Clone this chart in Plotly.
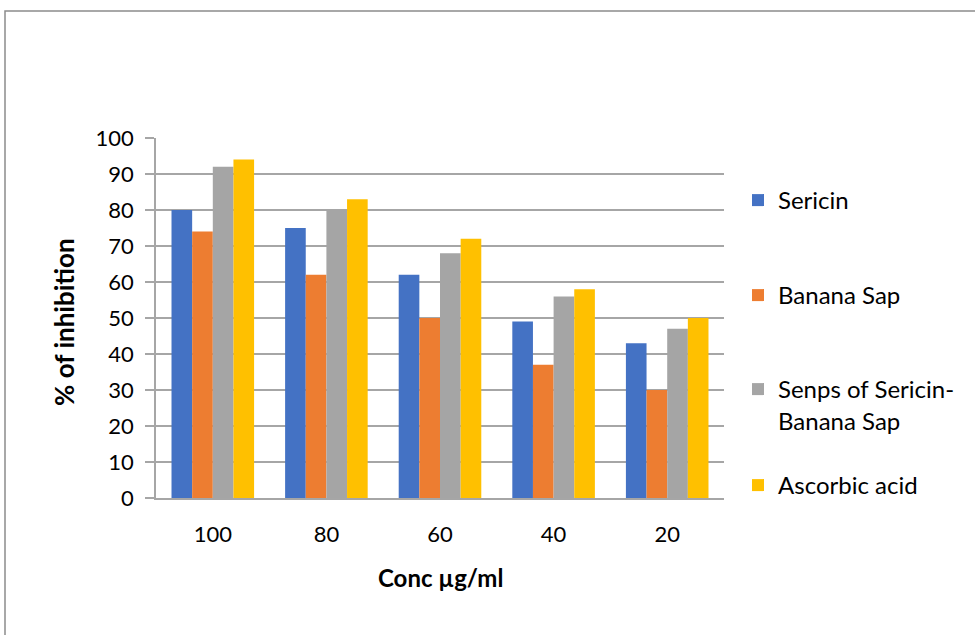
import plotly.graph_objects as go

# Concentrations (µg/ml) and % inhibition for each sample
concentrations = ["100", "80", "60", "40", "20"]
sericin = [80, 75, 62, 49, 43]
banana_sap = [74, 62, 50, 37, 30]
senps = [92, 80, 68, 56, 47]
ascorbic_acid = [94, 83, 72, 58, 50]

series_names = ["Sericin", "Banana Sap", "Senps of Sericin-<br>Banana Sap", "Ascorbic acid"]
series_values = [sericin, banana_sap, senps, ascorbic_acid]
series_colors = ["#4472C4", "#ED7D31", "#A5A5A5", "#FFC000"]

FONT = "Lato"
W, H = 975, 635
ML, MR, MT, MB = 156, 251, 138, 137
PW, PH = W - ML - MR, H - MT - MB

# legend slot centres (pixels from top) for each entry
legend_centres = [201, 296, 390, 486]
legend_ids = ["legend", "legend2", "legend3", "legend4"]

fig = go.Figure()
for name, vals, col, lid in zip(series_names, series_values, series_colors, legend_ids):
    fig.add_trace(go.Bar(x=concentrations, y=vals, name=name,
                         marker=dict(color=col, line=dict(width=0)),
                         legend=lid, showlegend=True))

legend_layout = {}
for lid, cy in zip(legend_ids, legend_centres):
    legend_layout[lid] = dict(
        xref="container", yref="container",
        x=738 / W, y=1 - (cy - 23) / H,
        xanchor="left", yanchor="top",
        valign="top",
        font=dict(family=FONT, size=24, color="#000000"),
        bgcolor="rgba(0,0,0,0)", borderwidth=0,
    )

grid = "#A6A6A6"
fig.update_layout(
    width=W, height=H,
    margin=dict(l=ML, r=MR, t=MT, b=MB),
    paper_bgcolor="white", plot_bgcolor="white",
    showlegend=True,
    barmode="group", bargap=0.273, bargroupgap=0,
    font=dict(family=FONT, size=22, color="#000000"),
    xaxis=dict(showgrid=False, showline=True, linecolor=grid, linewidth=1.5,
               ticks="", tickfont=dict(size=22), ticklabelstandoff=16),
    yaxis=dict(range=[0, 100], dtick=10, showgrid=True, gridcolor=grid, gridwidth=1.5,
               showline=True, linecolor=grid, linewidth=1.5,
               ticks="outside", ticklen=9, tickcolor=grid, tickwidth=1.5,
               tickfont=dict(size=22), zeroline=False, ticklabelstandoff=7),
    **legend_layout,
    annotations=[
        dict(text="<b>Conc µg/ml</b>", xref="paper", yref="paper",
             x=0.5, y=(PH + MT - 577) / PH, xanchor="center", yanchor="middle",
             showarrow=False, font=dict(family=FONT, size=24)),
        dict(text="<b>% of inhibition</b>", xref="paper", yref="paper",
             x=(64 - ML) / PW, y=(PH + MT - 322) / PH, xanchor="center", yanchor="middle",
             textangle=-90, showarrow=False, font=dict(family=FONT, size=26)),
    ],
    shapes=[
        dict(type="rect", xref="paper", yref="paper", layer="below",
             x0=(5 - ML) / PW, x1=(990 - ML) / PW,
             y0=(PH + MT - 650) / PH, y1=(PH + MT - 11) / PH,
             line=dict(color="#8C8C8C", width=1.5), fillcolor="rgba(0,0,0,0)"),
    ],
)

fig.write_html("out.html")
